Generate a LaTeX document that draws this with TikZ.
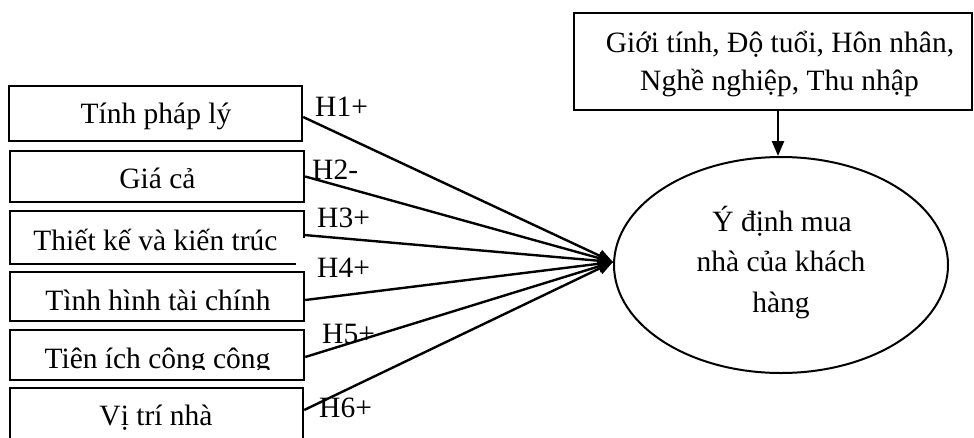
\documentclass[tikz,border=0pt]{standalone}
\usepackage{fontspec}
\setmainfont{Liberation Serif}
\usetikzlibrary{arrows.meta,shapes.geometric,calc}
\tikzset{
  box/.style={draw, line width=2.4pt, inner sep=0pt, minimum width=294pt},
  lbl/.style={anchor=base, inner sep=0pt, font=\fontsize{29.5}{35}\selectfont},
  hlbl/.style={anchor=base west, inner sep=0pt, font=\fontsize{29.5}{35}\selectfont},
  conn/.style={line width=2.4pt, -{Triangle[length=15pt,width=12pt]}}
}
\begin{document}
\begin{tikzpicture}[x=1pt,y=-1pt]
\useasboundingbox (0,0) rectangle (974,437);
\clip (0,0) rectangle (974,437);
% left boxes
\node[box, minimum width=293pt, minimum height=55pt] (b1) at (155.5,113.5) {};
\node[box, minimum height=51pt] (b2) at (157,176.5) {};
\node[inner sep=0pt, minimum width=294pt, minimum height=53pt] (b3) at (157,237.5) {};
\draw[line width=2.4pt] ([yshift=-27pt]b3.north east) -- (b3.north east) -- (b3.north west) -- (b3.south west) -- ([xshift=-8pt]b3.south east);
\node[box, minimum height=49pt] (b4) at (157,296.5) {};
\node[box, minimum height=50pt] (b5) at (157,355) {};
\node[box, minimum width=293pt, minimum height=62pt] (b6) at (156.5,419) {};
% box texts
\node[lbl] (t1) at (156,123) {Tính pháp lý};
\node[lbl] (t2) at (157.5,188) {Giá cả};
\node[lbl] (t3) at (155.5,250) {Thiết kế và kiến trúc};
\node[lbl] (t4) at (158,310) {Tình hình tài chính};
\begin{scope}
\clip (10,330) rectangle (304,369.5);
\node[lbl] (t5) at (157.5,368) {Tiên ích công cộng};
\end{scope}
\node[lbl] (t6) at (156,425) {Vị trí nhà};
% ellipse
\node[draw, ellipse, line width=2pt, inner sep=0pt, minimum width=334pt, minimum height=216pt] (e) at (781,265) {};
\node[lbl] (e1) at (782,231) {Ý định mua};
\node[lbl] (e2) at (781,271) {nhà của khách};
\node[lbl] (e3) at (781,312) {hàng};
% top box
\node[box, minimum width=398pt, minimum height=97pt] (tb) at (773,61.5) {};
\node[lbl] (tb1) at (780,52) {Giới tính, Độ tuổi, Hôn nhân,};
\node[lbl] (tb2) at (779.5,90) {Nghề nghiệp, Thu nhập};
% connectors
\draw[conn] ([yshift=-3.5pt]b1.east) -- ([yshift=3pt]e.west);
\draw[conn] (b2.east) -- ([yshift=3pt]e.west);
\draw[conn] ([yshift=2.5pt]b3.east) -- ([yshift=3pt]e.west);
\draw[conn] ([yshift=-3.5pt]b4.east) -- ([yshift=3pt]e.west);
\draw[conn] ([yshift=-2pt]b5.east) -- ([yshift=3pt]e.west);
\draw[conn] ([yshift=9pt]b6.east) -- ([yshift=3pt]e.west);
\draw[conn] ([xshift=5pt]tb.south) -- ([xshift=-3pt]e.north);
% hypothesis labels
\node[hlbl] (h1) at (315,116) {H1+};
\node[hlbl] (h2) at (312,179) {H2-};
\node[hlbl] (h3) at (317,227) {H3+};
\node[hlbl] (h4) at (317,277) {H4+};
\node[hlbl] (h5) at (322,343) {H5+};
\node[hlbl] (h6) at (319,417) {H6+};
\end{tikzpicture}
\end{document}
